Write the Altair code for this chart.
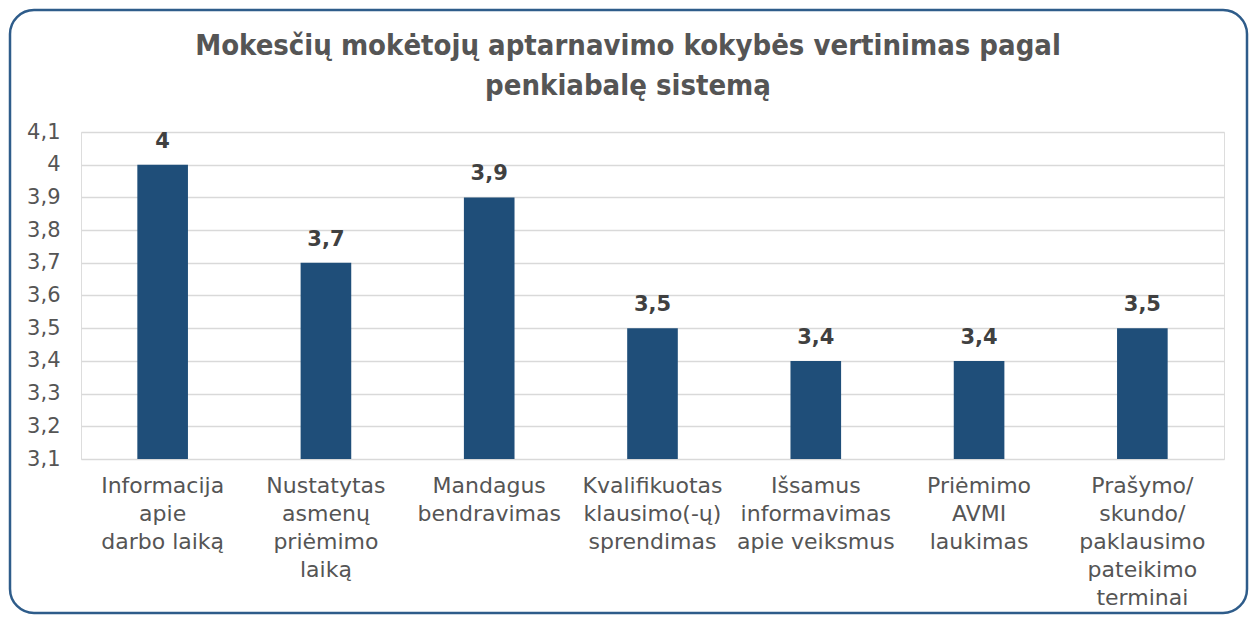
import altair as alt
import pandas as pd

title_lines = ["Mokesčių mokėtojų aptarnavimo kokybės vertinimas pagal", "penkiabalę sistemą"]
categories = [
    ["Informacija", "apie", "darbo laiką"],
    ["Nustatytas", "asmenų", "priėmimo", "laiką"],
    ["Mandagus", "bendravimas"],
    ["Kvalifikuotas", "klausimo(-ų)", "sprendimas"],
    ["Išsamus", "informavimas", "apie veiksmus"],
    ["Priėmimo", "AVMI", "laukimas"],
    ["Prašymo/", "skundo/", "paklausimo", "pateikimo", "terminai"],
]
values = [4.0, 3.7, 3.9, 3.5, 3.4, 3.4, 3.5]
y_ticks = [3.1, 3.2, 3.3, 3.4, 3.5, 3.6, 3.7, 3.8, 3.9, 4.0, 4.1]

df = pd.DataFrame({"category": ["\n".join(c) for c in categories], "value": values})
order = list(df["category"])

W, H = 1143, 327
PL, PT, PR, PB = 73, 124, 26, 157
FONT = "DejaVu Sans"
GREY = "#555555"

xenc = alt.X(
    "category:N", sort=order,
    scale=alt.Scale(paddingInner=0.69, paddingOuter=0.345),
    axis=alt.Axis(
        title=None, labelAngle=0, labelExpr="split(datum.label, '\\n')",
        labelFont=FONT, labelFontSize=22, labelColor=GREY, labelLineHeight=28,
        labelBaseline="top", labelPadding=16, ticks=False, domain=False,
        labelOverlap=False, labelLimit=400, labelBound=False,
    ),
)
yenc = alt.Y(
    "value:Q",
    scale=alt.Scale(domain=[3.1, 4.1], zero=False, nice=False),
    axis=alt.Axis(
        title=None, values=y_ticks, tickCount=len(y_ticks) + 5,
        labelExpr="replace(format(datum.value, '.1~f'), '.', ',')",
        labelFont=FONT, labelFontSize=21, labelColor=GREY, labelPadding=21,
        labelOverlap=False, labelBound=False, labelFlush=False,
        ticks=False, domain=False, grid=True, gridColor="#D9D9D9", gridWidth=1.5,
    ),
)

base = alt.Chart(df)
bars = base.mark_bar(color="#1F4E79").encode(
    x=xenc, y=yenc, y2=alt.Y2Datum(datum=3.1)
)
labels = base.transform_calculate(
    label="replace(format(datum.value, '.1~f'), '.', ',')"
).mark_text(
    dy=-17, baseline="alphabetic", font=FONT, fontWeight="bold", fontSize=21, color="#404040"
).encode(x=alt.X("category:N", sort=order), y="value:Q", text="label:N")

one = pd.DataFrame({"k": [0]})
title = alt.Chart(one).mark_text(
    text=title_lines, font="DejaVu Sans Condensed, DejaVu Sans", fontWeight="bold",
    fontSize=29, color=GREY, align="center", baseline="alphabetic", lineHeight=40,
).encode(x=alt.value(547), y=alt.value(-77))

border = alt.Chart(one).mark_rect(
    fill="transparent", stroke="#2E5C8A", strokeWidth=2.5, cornerRadius=24,
).encode(x=alt.value(-71), x2=alt.value(W + PR - 3), y=alt.value(-122), y2=alt.value(H + PB - 3))

chart = alt.layer(bars, labels, title, border).properties(
    width=W, height=H,
    padding={"left": PL, "top": PT, "right": PR, "bottom": PB},
    autosize=alt.AutoSizeParams(type="none"),
).configure_view(stroke=None).configure(background="white")

chart.save("out.html", embed_options={"renderer": "svg", "actions": False})
